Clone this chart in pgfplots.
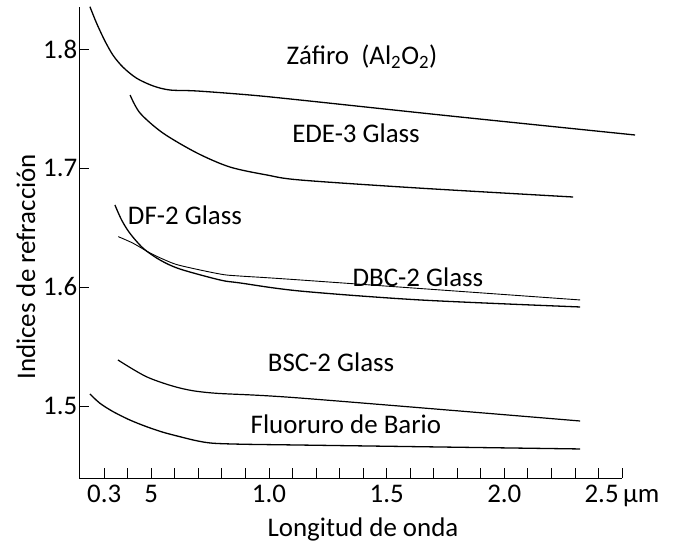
\documentclass[border=0pt]{standalone}
\usepackage{fontspec}
\setmainfont{Carlito}
\usepackage{pgfplots}
\pgfplotsset{compat=1.18}
\newcommand\ff{\fontsize{27}{32}\selectfont}
\pgfplotstableread{
x y
0.2392 1.8355
0.2677 1.8216
0.3030 1.8067
0.3382 1.7945
0.3807 1.7845
0.4377 1.7754
0.5082 1.7689
0.5792 1.7655
0.6927 1.7647
0.9192 1.7613
1.1317 1.7571
1.7692 1.7437
2.5554 1.7277
}\zafiro
\pgfplotstableread{
x y
0.410 1.7613
0.452 1.7462
0.549 1.7294
0.694 1.7126
0.834 1.7008
0.991 1.6941
1.132 1.6899
1.629 1.6832
2.292 1.6756
}\ede
\pgfplotstableread{
x y
0.3455 1.6689
0.3739 1.6563
0.4092 1.6451
0.4657 1.6325
0.5367 1.6227
0.6217 1.6151
0.7917 1.6059
0.8767 1.6034
1.1317 1.5966
1.6417 1.5891
2.3217 1.5832
}\dff
\pgfplotstableread{
x y
0.3595 1.6423
0.4232 1.6367
0.4942 1.6286
0.5580 1.6227
0.6217 1.6181
0.7917 1.6109
0.8767 1.6092
1.1317 1.6059
2.3217 1.5891
}\dbc
\pgfplotstableread{
x y
0.3582 1.5387
0.4815 1.5244
0.6217 1.5151
0.7620 1.5109
1.1317 1.5067
2.3217 1.4874
}\bsc
\pgfplotstableread{
x y
0.2392 1.5101
0.2817 1.5023
0.3382 1.4952
0.4092 1.4882
0.4802 1.4826
0.5507 1.4779
0.6217 1.4742
0.6927 1.4708
0.7632 1.4687
0.9052 1.4678
1.1317 1.4672
2.3217 1.4639
}\fluor
\begin{document}
\begin{tikzpicture}
\useasboundingbox (-79.5bp,-74bp) rectangle (605.5bp,478bp);
\begin{axis}[
 at={(0,0)}, anchor=south west,
 scale only axis, width=542.5bp, height=471.3bp,
 xmin=0.195, xmax=2.5, ymin=1.4395, ymax=1.8355,
 axis x line*=bottom, axis y line*=left,
 axis line style={line width=1bp},
 clip=false,
 xtick={0.3,0.5,1.0,1.5,2.0,2.5},
 xticklabels={0.3,5,1.0,1.5,2.0,2.5\,µm},
 minor xtick={0.4,0.6,0.7,0.8,0.9,1.1,1.2,1.3,1.4,1.6,1.7,1.8,1.9,2.1,2.2,2.3,2.4},
 ytick={1.5,1.6,1.7,1.8}, yticklabels={1.5,1.6,1.7,1.8},
 tick align=inside, major tick length=10bp, minor tick length=10bp,
 tick style={line width=0.8bp, black},
 tick label style={font=\ff, inner sep=2bp},
 xticklabel style={yshift=-5bp},
 xlabel={Longitud de onda}, ylabel={Indices de refracción},
 label style={font=\ff},
 xlabel style={at={(axis description cs:0.5226,-0.110)}, anchor=center},
 ylabel style={at={(axis description cs:-0.0986,0.448)}, anchor=center},
]
\addplot[black, line width=1.3bp, smooth] table[x=x,y=y] {\zafiro};
\addplot[black, line width=1.3bp, smooth] table[x=x,y=y] {\ede};
\addplot[black, line width=1.3bp, smooth] table[x=x,y=y] {\dff};
\addplot[black, line width=0.9bp, smooth] table[x=x,y=y] {\dbc};
\addplot[black, line width=1.2bp, smooth] table[x=x,y=y] {\bsc};
\addplot[black, line width=1.3bp, smooth] table[x=x,y=y] {\fluor};
\node[anchor=base, font=\ff] at (axis cs:1.395,1.7866) {Záfiro\ \ (Al\textsubscript{2}O\textsubscript{2})};
\node[anchor=base, font=\ff] at (axis cs:1.370,1.7218) {EDE-3 Glass};
\node[anchor=base, font=\ff] at (axis cs:0.643,1.6529) {DF-2 Glass};
\node[anchor=base, font=\ff] at (axis cs:1.633,1.6000) {DBC-2 Glass};
\node[anchor=base, font=\ff] at (axis cs:1.264,1.5286) {BSC-2 Glass};
\node[anchor=base, font=\ff] at (axis cs:1.327,1.4773) {Fluoruro de Bario};
\end{axis}
\end{tikzpicture}
\end{document}
